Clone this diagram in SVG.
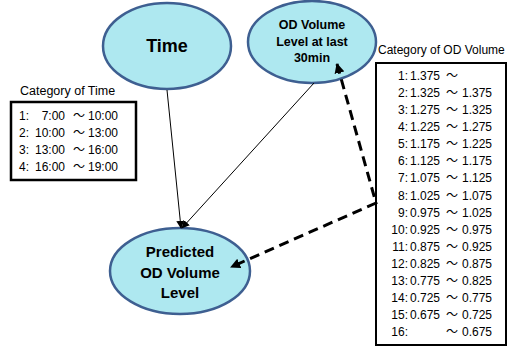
<svg xmlns="http://www.w3.org/2000/svg" width="508" height="349" viewBox="0 0 508 349">
<style>
.node{fill:#AEE8F0;stroke:#3E5F91;stroke-width:2.5}
.t{font-family:"Liberation Sans","Noto Sans CJK JP",sans-serif;fill:#000}
.b{font-weight:bold;text-anchor:middle}
.s{font-size:12px}
.box{fill:#fff;stroke:#000;stroke-width:2.5}
.e{text-anchor:end}
</style>
<defs>
<marker id="a" viewBox="0 0 10 10" refX="9" refY="5" markerWidth="8" markerHeight="8" markerUnits="userSpaceOnUse" orient="auto-start-reverse"><path d="M0,0 L10,5 L0,10 z" fill="#000"/></marker>
<marker id="ad" viewBox="0 0 10 10" refX="9" refY="5" markerWidth="10" markerHeight="10" markerUnits="userSpaceOnUse" orient="auto-start-reverse"><path d="M0,0 L10,5 L0,10 z" fill="#000"/></marker>
</defs>
<rect width="508" height="349" fill="#fff"/>
<g id="time">
<ellipse class="node" cx="167" cy="46" rx="64" ry="43"/>
<text class="t b" x="167" y="52" font-size="18">Time</text>
</g>
<g id="odlast">
<ellipse class="node" cx="312" cy="42" rx="64" ry="41"/>
<text class="t b" x="312" y="29" font-size="12.5">OD Volume</text>
<text class="t b" x="312" y="46" font-size="12.5">Level at last</text>
<text class="t b" x="312" y="62" font-size="12.5">30min</text>
</g>
<g id="predicted">
<ellipse class="node" cx="180" cy="271" rx="70" ry="43"/>
<text class="t b" x="180" y="257" font-size="15">Predicted</text>
<text class="t b" x="180" y="278" font-size="15">OD Volume</text>
<text class="t b" x="180" y="298" font-size="15">Level</text>
</g>
<g id="timecat">
<text class="t" x="20" y="95" font-size="12.5">Category of Time</text>
<rect class="box" x="11" y="102" width="125" height="78"/>
<g class="t s">
<text x="19" y="120">1:</text><text class="e" x="65" y="120">7:00</text><text x="73" y="120">〜</text><text x="88" y="120">10:00</text>
<text x="19" y="137">2:</text><text class="e" x="65" y="137">10:00</text><text x="73" y="137">〜</text><text x="88" y="137">13:00</text>
<text x="19" y="154">3:</text><text class="e" x="65" y="154">13:00</text><text x="73" y="154">〜</text><text x="88" y="154">16:00</text>
<text x="19" y="171">4:</text><text class="e" x="65" y="171">16:00</text><text x="73" y="171">〜</text><text x="88" y="171">19:00</text>
</g>
</g>
<g id="odcat">
<text class="t" x="378" y="54" font-size="12">Category of OD Volume</text>
<rect x="376" y="63" width="130" height="282" fill="#fff" stroke="#000" stroke-width="2"/>
<g class="t s">
<text class="e" x="408" y="80">1:</text><text x="410" y="80">1.375</text><text x="446" y="80">〜</text>
<text class="e" x="408" y="97">2:</text><text x="410" y="97">1.325</text><text x="446" y="97">〜</text><text x="462" y="97">1.375</text>
<text class="e" x="408" y="114">3:</text><text x="410" y="114">1.275</text><text x="446" y="114">〜</text><text x="462" y="114">1.325</text>
<text class="e" x="408" y="131">4:</text><text x="410" y="131">1.225</text><text x="446" y="131">〜</text><text x="462" y="131">1.275</text>
<text class="e" x="408" y="148">5:</text><text x="410" y="148">1.175</text><text x="446" y="148">〜</text><text x="462" y="148">1.225</text>
<text class="e" x="408" y="165">6:</text><text x="410" y="165">1.125</text><text x="446" y="165">〜</text><text x="462" y="165">1.175</text>
<text class="e" x="408" y="182">7:</text><text x="410" y="182">1.075</text><text x="446" y="182">〜</text><text x="462" y="182">1.125</text>
<text class="e" x="408" y="200">8:</text><text x="410" y="200">1.025</text><text x="446" y="200">〜</text><text x="462" y="200">1.075</text>
<text class="e" x="408" y="217">9:</text><text x="410" y="217">0.975</text><text x="446" y="217">〜</text><text x="462" y="217">1.025</text>
<text class="e" x="408" y="234">10:</text><text x="410" y="234">0.925</text><text x="446" y="234">〜</text><text x="462" y="234">0.975</text>
<text class="e" x="408" y="251">11:</text><text x="410" y="251">0.875</text><text x="446" y="251">〜</text><text x="462" y="251">0.925</text>
<text class="e" x="408" y="268">12:</text><text x="410" y="268">0.825</text><text x="446" y="268">〜</text><text x="462" y="268">0.875</text>
<text class="e" x="408" y="285">13:</text><text x="410" y="285">0.775</text><text x="446" y="285">〜</text><text x="462" y="285">0.825</text>
<text class="e" x="408" y="302">14:</text><text x="410" y="302">0.725</text><text x="446" y="302">〜</text><text x="462" y="302">0.775</text>
<text class="e" x="408" y="319">15:</text><text x="410" y="319">0.675</text><text x="446" y="319">〜</text><text x="462" y="319">0.725</text>
<text class="e" x="408" y="336">16:</text><text x="446" y="336">〜</text><text x="462" y="336">0.675</text>
</g>
</g>
<g id="connectors">
<line x1="167" y1="90" x2="181" y2="228" stroke="#000" stroke-width="1" marker-end="url(#a)"/>
<line x1="314" y1="83" x2="182" y2="228" stroke="#000" stroke-width="1" marker-end="url(#a)"/>
<polyline points="337,64 376,203 231,267" fill="none" stroke="#000" stroke-width="3" stroke-dasharray="10,6" marker-start="url(#ad)" marker-end="url(#ad)"/>
</g>
</svg>
